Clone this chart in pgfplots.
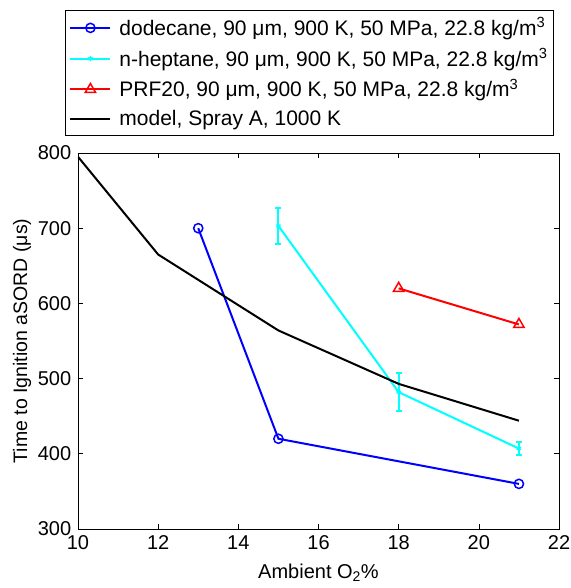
\documentclass[border=0pt]{standalone}
\usepackage{pgfplots}
\pgfplotsset{compat=1.18}
\usepackage{fontspec}
\setmainfont{Liberation Sans}
\definecolor{mblue}{rgb}{0,0,1}
\definecolor{mcyan}{rgb}{0,1,1}
\definecolor{mred}{rgb}{1,0,0}
\begin{document}
\fontsize{20}{24}\selectfont
\begin{tikzpicture}
\begin{axis}[
  at={(0pt,0pt)}, anchor=south west,
  scale only axis,
  width=481pt, height=376pt,
  xmin=10, xmax=22, ymin=300, ymax=800,
  xtick={10,12,...,22}, ytick={300,400,...,800},
  tick align=inside,
  major tick length=5pt,
  /pgf/number format/assume math mode=true,
  tick label style={font=\fontsize{20}{24}\selectfont},
  label style={font=\fontsize{20}{24}\selectfont},
  xlabel={Ambient O\textsubscript{2}\%},
  ylabel={Time to Ignition aSORD (μs)},
  xlabel style={at={(axis description cs:0.5,0)}, anchor=base, yshift=-49pt},
  ylabel style={at={(axis description cs:0,0.5)}, anchor=center, yshift=56pt, font=\fontsize{19.5}{23}\selectfont},
  axis line style={line width=0.8pt},
  every tick/.style={black, line width=0.6pt},
  legend style={at={(-0.027,1.38)}, anchor=north west, draw=black, line width=0.8pt,
    font=\fontsize{21}{25}\selectfont, row sep=6pt, inner xsep=4pt, inner ysep=5pt},
  legend cell align=left,
  legend image code/.code={\draw[mark repeat=2,mark phase=2] plot coordinates {(0pt,0pt)(20pt,0pt)(40pt,0pt)};\path (46pt,0pt);},
]
\addplot[mblue, line width=2pt, mark=o, mark size=4.6pt, mark options={line width=1.5pt, solid}] coordinates {(13,700) (15,420) (21,360)};
\addlegendentry{dodecane, 90 μm, 900 K, 50 MPa, 22.8 kg/m\textsuperscript{3}}
\addplot[mcyan, line width=2pt, mark=asterisk, mark size=2.5pt, mark options={line width=1.2pt, solid},
  error bars/.cd, y dir=both, y explicit, error bar style={line width=2pt}, error mark options={rotate=90, mark size=3pt, line width=2pt}]
  coordinates {(15,703) +- (0,24) (18,482) +- (0,25) (21,407) +- (0,9)};
\addlegendentry{n-heptane, 90 μm, 900 K, 50 MPa, 22.8 kg/m\textsuperscript{3}}
\addplot[mred, line width=2pt, mark=triangle, mark size=6pt, mark options={line width=1.5pt, solid}] coordinates {(18,620) (21,572)};
\addlegendentry{PRF20, 90 μm, 900 K, 50 MPa, 22.8 kg/m\textsuperscript{3}}
\addplot[black, line width=2pt] coordinates {(10,795) (12,665) (15,564) (18,493) (21,444)};
\addlegendentry{model, Spray A, 1000 K}
\end{axis}
\pgfresetboundingbox
\useasboundingbox (-78pt,-59pt) rectangle (492pt,529pt);
\end{tikzpicture}
\end{document}
